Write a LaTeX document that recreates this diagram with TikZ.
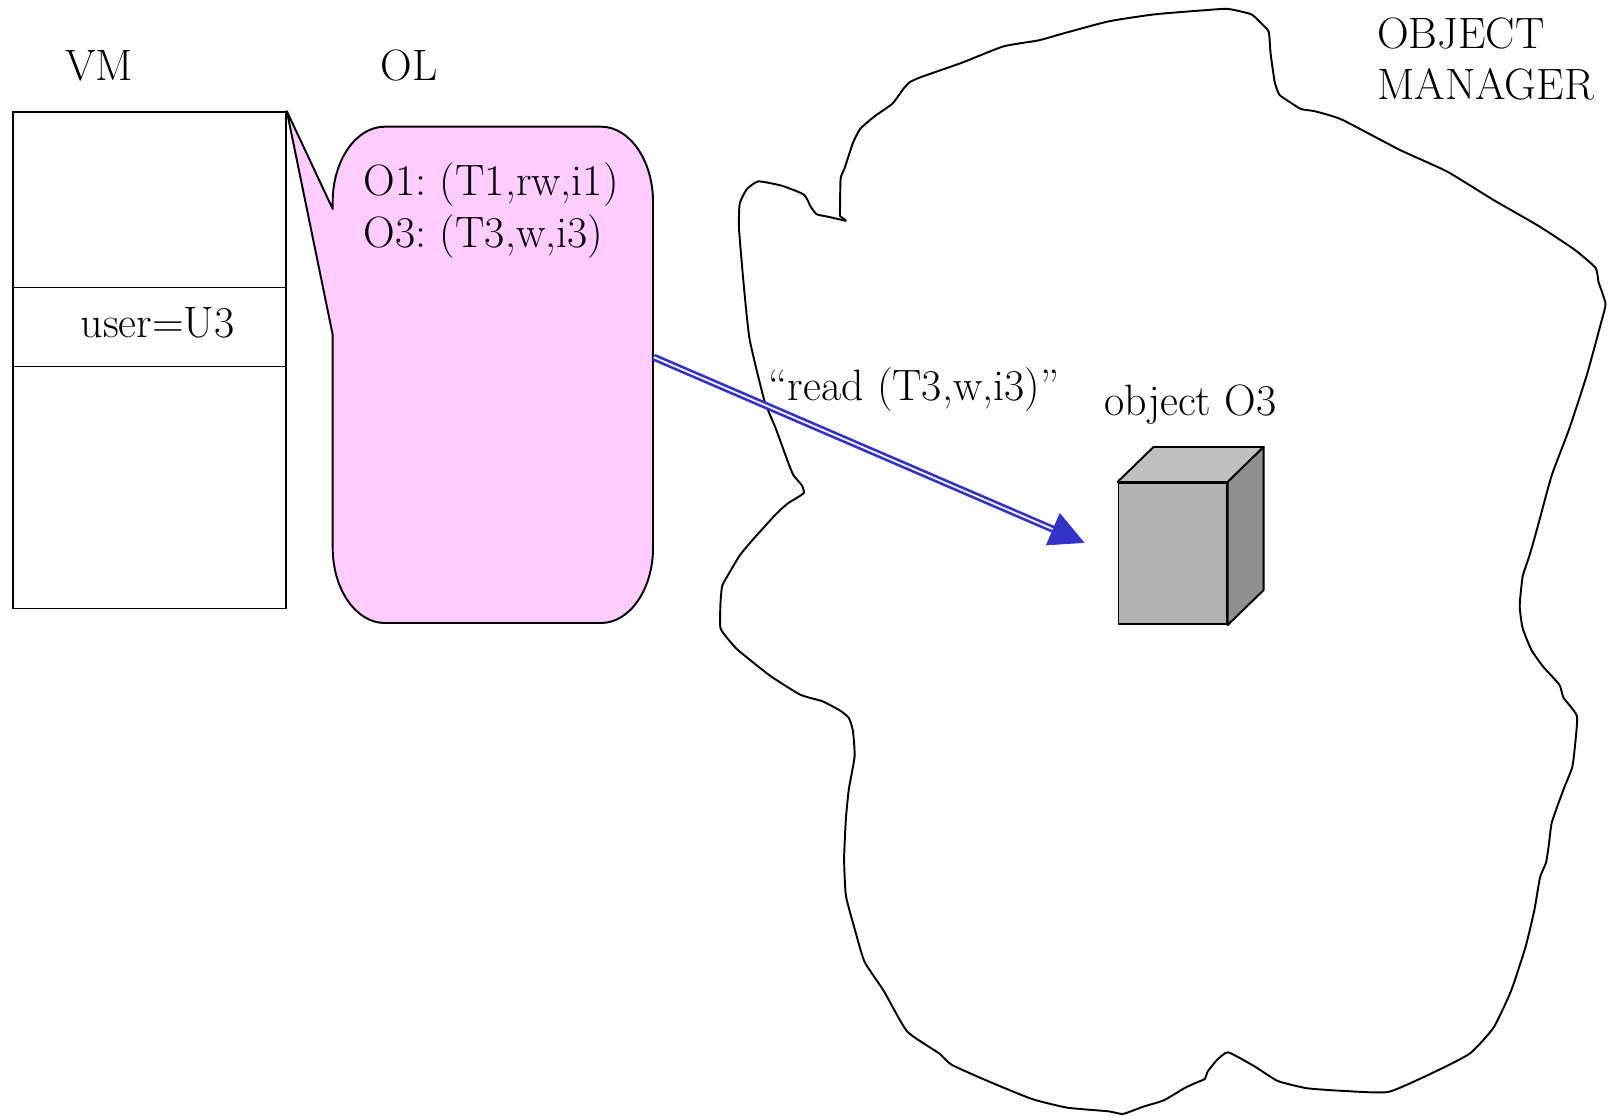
\documentclass[tikz,border=0pt]{standalone}
\usetikzlibrary{arrows.meta,calc}
\definecolor{olpink}{RGB}{255,204,255}
\definecolor{arrowblue}{RGB}{51,51,204}
\definecolor{cubefront}{RGB}{178,178,178}
\definecolor{cubetop}{RGB}{192,192,192}
\definecolor{cubeside}{RGB}{143,143,143}
\begin{document}
\frenchspacing
\begin{tikzpicture}[x=0.02cm,y=-0.02cm,
  lbl/.style={font=\fontsize{25}{30}\selectfont, inner sep=0pt},
  outline/.style={draw=black, line width=1.1pt, line join=round},
  thinbox/.style={draw=black, line width=0.9pt},
  dblarrow/.style={draw=arrowblue, line width=1.55pt, double=white, double distance=1.0pt},
  headarrow/.style={draw=arrowblue, fill=arrowblue, line width=0.4pt, -{Triangle[length=0.69cm,width=0.70cm]}}
]
\useasboundingbox (0,0) rectangle (1615,1115);

% cloud (object manager)
\draw[outline] plot[smooth cycle, tension=0.3] coordinates {
(845.9,220.7) (840,216) (840,210.7) (840.6,178.6) (844.7,167.9) (852.9,142.9) (860.4,128.6)
(875,116) (892.5,103.6) (903,89.3) (910,82) (921.7,76.8) (962.5,62.5) (1003.4,46.4)
(1038.4,40.4) (1061.7,33.9) (1108.4,21.4) (1155,14.3) (1207.6,10) (1228,8.9) (1251.3,14.3)
(1263,25) (1268.8,32) (1270.6,53.6) (1274.7,82) (1279.3,94.6) (1289.3,101.8) (1301,109)
(1315.5,111.4) (1341.8,119.6) (1400,150) (1446.8,171.4) (1493.5,200) (1540,226.8)
(1575,250) (1595.6,267.9) (1598.5,282) (1605.5,303.6) (1601.4,321.4) (1586.8,375)
(1569.3,428.6) (1551.8,475) (1540,518) (1534,540) (1529,557) (1522.6,576.7) (1519.7,606)
(1522.6,628) (1531.4,650) (1543,666.5) (1559.4,684.8) (1563.5,697.7) (1576.9,716)
(1575,745.4) (1572.2,767.4) (1563.5,789.4) (1551.8,822.4) (1548.9,844.4) (1546,862.7)
(1540,877.4) (1534.3,910.4) (1525.5,947) (1511,991) (1493.5,1027.7) (1470,1053.4)
(1435,1071.7) (1388.4,1091.9) (1341.8,1090.8) (1306.8,1088.2) (1277.6,1080.9)
(1254.3,1066.2) (1228,1052.3) (1216.3,1060.7) (1207.6,1071.7) (1204.7,1079) (1196,1082.7)
(1184.3,1088.2) (1163.8,1100.3) (1143.4,1106.6) (1123,1113.9) (1108.4,1111.3)
(1067.6,1107.7) (1032.6,1099.2) (991.7,1082.7) (952,1065) (939.2,1053.4) (907.1,1031.4)
(883.8,991) (864.5,961.7) (854.6,928.7) (845.9,895.7) (844.1,859) (845.9,818.7)
(848.8,789.4) (854.6,756.4) (852.9,730.7) (848.8,717.9) (840,710.5) (822.5,701.3)
(800.3,694.7) (770,675.7) (737.9,650) (728,639) (720.4,628) (720.4,604.2) (722.2,585.8)
(729.2,573) (740,555) (752.5,540) (775.8,514.3) (787.5,503.6) (796.3,498.2) (803.8,492.9)
(802.1,485.7) (793.3,475) (787.5,460.7) (775.8,428.6) (764.2,400) (749.6,339.3)
(743.8,285.7) (739,228.6) (739.7,203.6) (746.7,189.3) (758.3,181.4) (781.7,185.7)
(803.9,194.6) (810.9,207) (816.7,214.3) (828.4,216.8)
};

% VM box
\node[thinbox, minimum width=5.458cm, minimum height=9.93cm, inner sep=0pt, anchor=north west] (vm) at (12.4,111.2) {};
\draw[thinbox] ($(vm.north west)+(0,176.2)$) -- ($(vm.north east)+(0,176.2)$);
\draw[thinbox] ($(vm.north west)+(0,255.5)$) -- ($(vm.north east)+(0,255.5)$);

% OL callout
\node[minimum width=6.406cm, minimum height=9.926cm, inner sep=0pt, anchor=north west] (ol) at (332.7,126.7) {};
\draw[outline, fill=olpink]
  (332.7,334.8) -- (332.7,548)
  .. controls (332.7,589.3) and (356.1,623) .. (384.7,623)
  -- (601,623)
  .. controls (629.6,623) and (653,589.3) .. (653,548)
  -- (653,201.7)
  .. controls (653,160.4) and (629.6,126.7) .. (601,126.7)
  -- (384.7,126.7)
  .. controls (356.1,126.7) and (332.7,160.4) .. (332.7,201.7)
  -- (332.7,209) -- (vm.north east) -- cycle;

% labels
\node[lbl, anchor=base] (vmlabel) at (99,80.7) {VM};
\node[lbl, anchor=base] (ollabel) at (409,80.7) {OL};
\node[lbl, anchor=base west] (user) at (80.3,337) {user=U3};
\node[lbl, anchor=base west] (o1) at (363.6,195.7) {O1: (T1,rw,i1)};
\node[lbl, anchor=base west] (o3) at (363.6,247.2) {O3: (T3,w,i3)};
\node[lbl, anchor=base west] (om1) at (1377,48.3) {OBJECT};
\node[lbl, anchor=base west] (om2) at (1377,99.5) {MANAGER};
\node[lbl, anchor=base west] (objlbl) at (1104,415) {object O3};

% cube
\node[outline, fill=cubefront, minimum width=2.164cm, minimum height=2.824cm, inner sep=0pt, anchor=north west] (cube) at (1117.5,482) {};
\draw[outline, fill=cubetop] (cube.north west) -- ($(cube.north west)+(36,-35)$) -- ($(cube.north east)+(36,-35)$) -- (cube.north east) -- cycle;
\draw[outline, fill=cubeside] (cube.north east) -- ($(cube.north east)+(36,-35)$) -- ($(cube.south east)+(36,-35)$) -- (cube.south east) -- cycle;

% arrow
\coordinate (start) at ($(ol.east)+(0,-18)$);
\coordinate (tip) at (1084.5,542.8);
\draw[dblarrow, shorten >=0.62cm] (start) -- (tip);
\draw[headarrow] ($(tip)!0.69cm!(start)$) -- (tip);
\node[lbl, anchor=base west] (readlbl) at (768.4,400.5) {“read (T3,w,i3)”};
\end{tikzpicture}
\end{document}
